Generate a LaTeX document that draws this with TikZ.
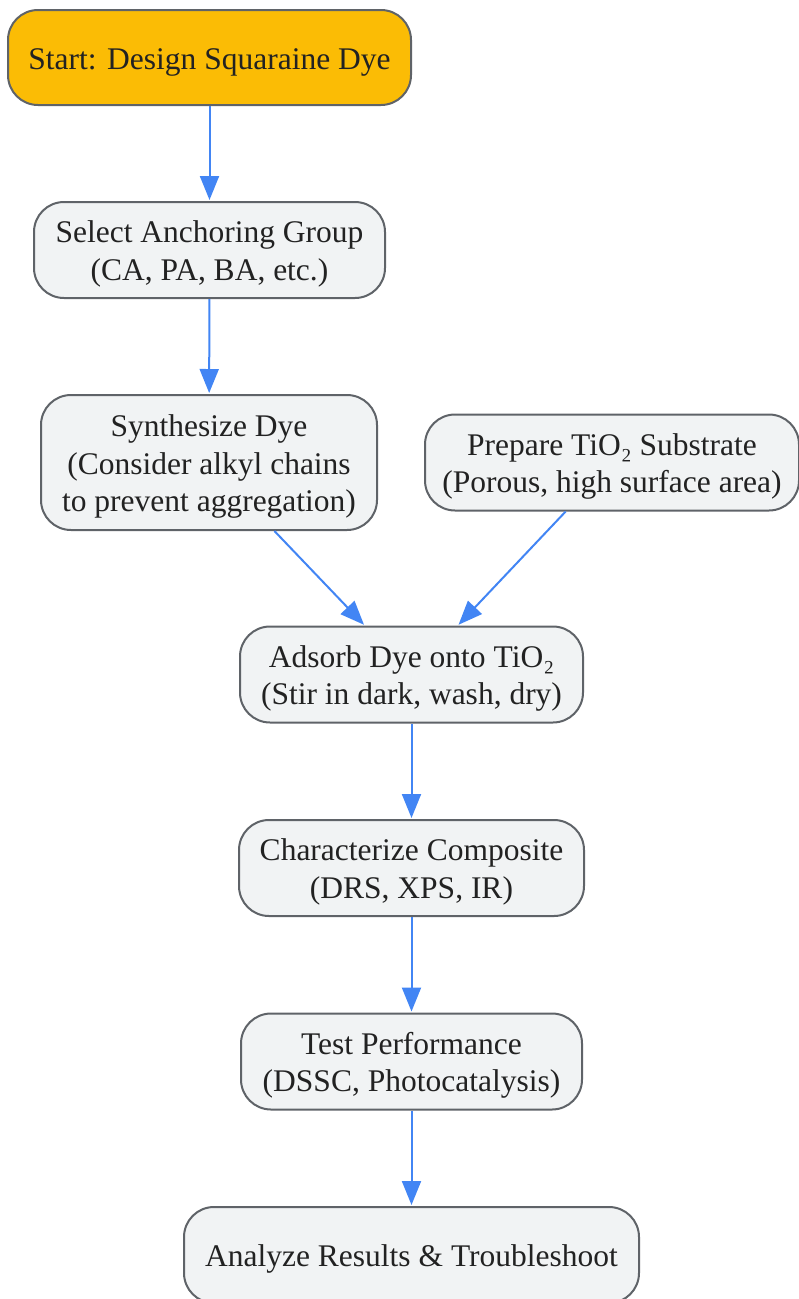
\documentclass[tikz,border=0pt]{standalone}
\usepackage{fontspec}
\setmainfont{Liberation Serif}
\usetikzlibrary{arrows.meta}

\definecolor{startfill}{HTML}{FBBC05}
\definecolor{boxfill}{HTML}{F1F3F4}
\definecolor{boxline}{HTML}{5F6368}
\definecolor{flow}{HTML}{4285F4}
\definecolor{ink}{HTML}{222222}

\newcommand{\steptext}[1]{\rule{0pt}{30pt}#1\rule[-6pt]{0pt}{0pt}}

\begin{document}
\begin{tikzpicture}[x = 1pt, y = 1pt,
	> = {Triangle[length = 24pt, width = 19pt]},
	font = \fontsize{31.5}{37.5}\selectfont,
	stepbox/.style = {draw = boxline, line width = 2pt, fill = boxfill, text = ink,
		rounded corners = 30pt, align = center, minimum height = 96pt, inner sep = 0pt},
	flowline/.style = {->, draw = flow, line width = 2pt, shorten > = 1pt}]

	% Bounding box
	
	\useasboundingbox (0, 0) rectangle (799, -1299);
	
	% Draw boxes
	
	\node [stepbox, fill = startfill, minimum width = 403pt, minimum height = 95pt]
		(start) at (209.5, -57.5) {\steptext{Start: Design Squaraine Dye}};
	\node [stepbox, minimum width = 351pt]
		(anchor) at (209.5, -250) {\steptext{Select Anchoring Group\\(CA, PA, BA, etc.)}};
	\node [stepbox, minimum width = 336pt, minimum height = 135pt]
		(synth) at (209, -462.5) {\steptext{Synthesize Dye\\(Consider alkyl chains\\to prevent aggregation)}};
	\node [stepbox, minimum width = 374pt]
		(subst) at (612, -462.5) {\steptext{Prepare TiO₂ Substrate\\(Porous, high surface area)}};
	\node [stepbox, minimum width = 343pt]
		(adsorb) at (411.5, -674.5) {\steptext{Adsorb Dye onto TiO₂\\(Stir in dark, wash, dry)}};
	\node [stepbox, minimum width = 345pt]
		(charac) at (411.5, -868) {\steptext{Characterize Composite\\(DRS, XPS, IR)}};
	\node [stepbox, minimum width = 341pt]
		(test) at (411.5, -1061.5) {\steptext{Test Performance\\(DSSC, Photocatalysis)}};
	\node [stepbox, minimum width = 455pt]
		(analyze) at (411.5, -1255) {\steptext{Analyze Results \& Troubleshoot}};
	
	% Draw arrows
	
	\draw [flowline] (start) -- (anchor);
	\draw [flowline] (anchor) -- (synth);
	\draw [flowline] (synth) -- (adsorb);
	\draw [flowline] (subst) -- (adsorb);
	\draw [flowline] (adsorb) -- (charac);
	\draw [flowline] (charac) -- (test);
	\draw [flowline] (test) -- (analyze);
	
\end{tikzpicture}
\end{document}
